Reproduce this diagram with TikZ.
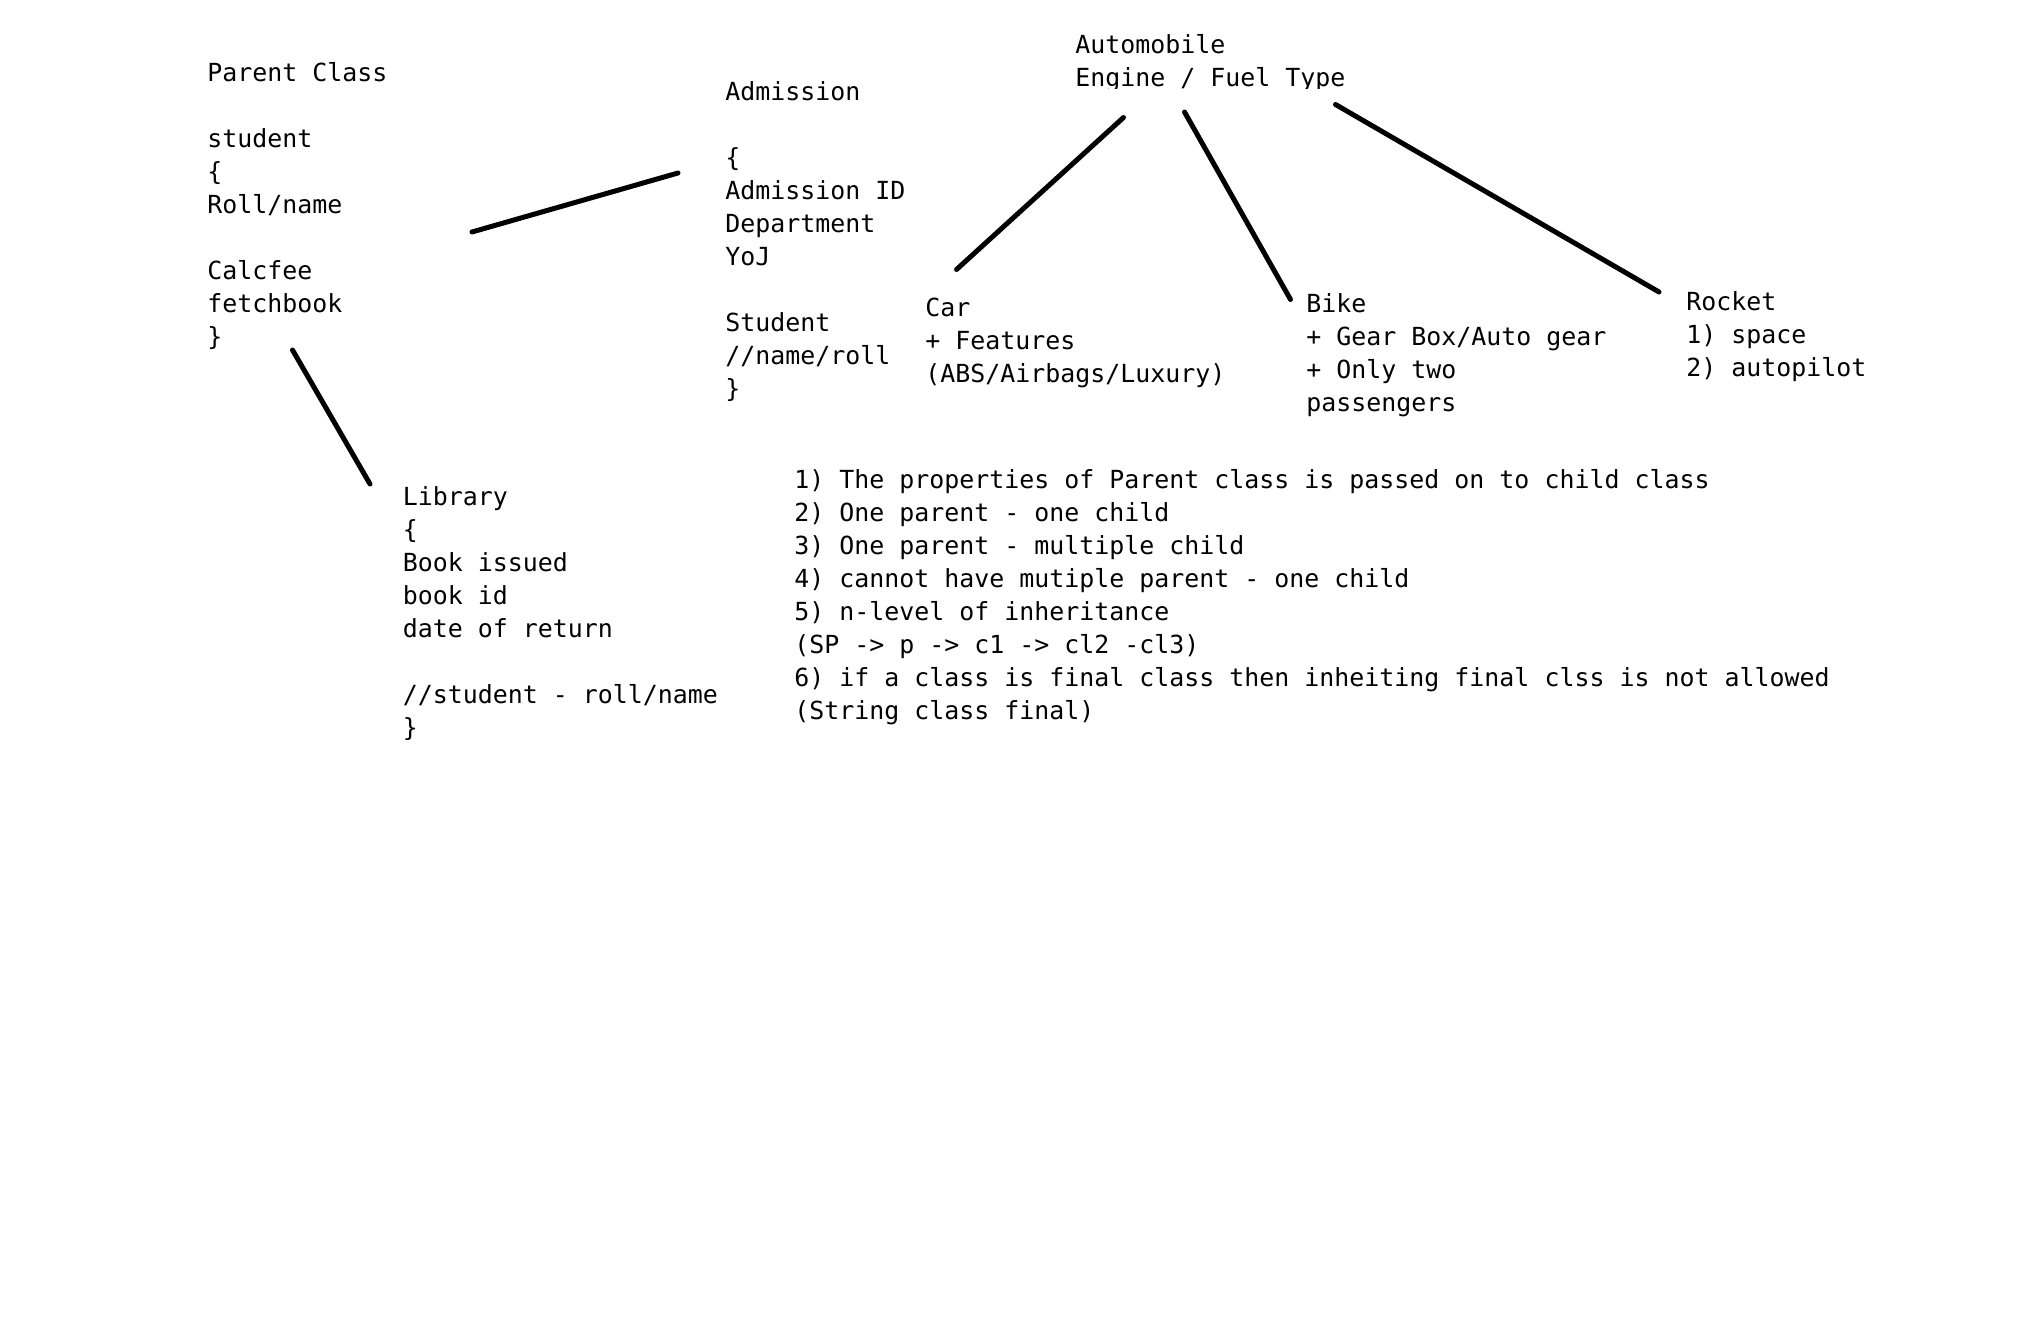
\documentclass[tikz,border=0pt]{standalone}
\usepackage{fontspec}
\newfontfamily\cons{DejaVu Sans Mono}
\tikzset{
  txt/.style={font=\cons\fontsize{12.46pt}{16.5pt}\selectfont, inner sep=0pt, anchor=base west, text=black},
  stroke/.style={line width=2.5pt, line cap=round, draw=black}
}
\newcommand\textblock[4]{%
  \foreach \t [count=\i from 0] in {#4} {\node[txt] (#1\i) at (#2, #3+33*\i) {\t};}}
\begin{document}
\begin{tikzpicture}[x=0.5pt,y=-0.5pt]
\useasboundingbox[fill=white] (0,0) rectangle (2030,1338);
% text blocks
\textblock{pc}{207}{81.6}{Parent Class,{},student,{\{},Roll/name,{},Calcfee,fetchbook,{\}}}
\textblock{ad}{725}{100.6}{Admission,{},{\{},Admission ID,Department,YoJ,{},Student,//name/roll,{\}}}
\node[txt] (am0) at (1075,54) {Automobile};
\begin{scope}
  \clip (1060,60) rectangle (1400,88.5);
  \node[txt] (am1) at (1075,87) {Engine / Fuel Type};
\end{scope}
\textblock{car}{925}{316}{Car,+ Features,{(ABS/Airbags/Luxury)}}
\textblock{bk}{1306}{312}{Bike,+ Gear Box/Auto gear,+ Only two,passengers}
\textblock{rk}{1686}{310}{Rocket,{1) space},{2) autopilot}}
\textblock{lib}{402.5}{505}{Library,{\{},Book issued,book id,date of return,{},//student - roll/name,{\}}}
\textblock{nt}{794}{488}{{1) The properties of Parent class is passed on to child class},{2) One parent - one child},{3) One parent - multiple child},{4) cannot have mutiple parent - one child},{5) n-level of inheritance},{(SP -> p -> c1 -> cl2 -cl3)},{6) if a class is final class then inheiting final clss is not allowed},{(String class final)}}
% connector ends
\coordinate (pcR) at (472,232);
\coordinate (adL) at (678,173);
\coordinate (pcB) at (292.5,350);
\coordinate (libT) at (370,484);
\coordinate (amA) at (1123.5,117.5);
\coordinate (carT) at (956.5,269.5);
\coordinate (amB) at (1184.5,112);
\coordinate (bkT) at (1290.5,299.5);
\coordinate (amC) at (1335.5,104.5);
\coordinate (rkT) at (1659,292);
% connectors
\draw[stroke] (pcR) -- (adL);
\draw[stroke] (pcB) -- (libT);
\draw[stroke] (amA) -- (carT);
\draw[stroke] (amB) -- (bkT);
\draw[stroke] (amC) -- (rkT);
\end{tikzpicture}
\end{document}
